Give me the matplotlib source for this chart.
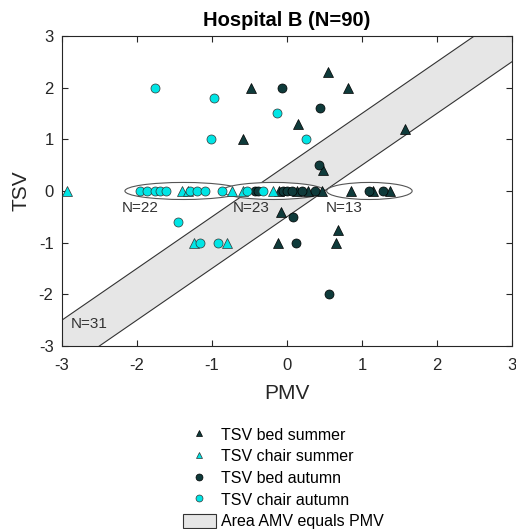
#Hospital B scatter: TSV vs PMV
import numpy as np
import matplotlib.pyplot as plt
from matplotlib.patches import Ellipse, Patch
from matplotlib.lines import Line2D

plt.rcParams['font.family'] = ['Liberation Sans', 'DejaVu Sans']
plt.rcParams['axes.unicode_minus'] = False

#data
bed_summer_x = [0.55, 0.81, 0.15, 1.57, 0.48, -0.48, -0.59, -0.08, -0.12, 0.68, 0.65,
                -0.1, 0.13, 0.28, 0.47, 0.85, 1.15, 1.37]
bed_summer_y = [2.3, 2.0, 1.3, 1.2, 0.4, 2.0, 1.0, -0.4, -1.0, -0.75, -1.0,
                0, 0, 0, 0, 0, 0, 0]

chair_summer_x = [-2.93, -1.24, -0.8, -1.4, -1.32, -0.73, -0.59, -0.19]
chair_summer_y = [0, -1.0, -1.0, 0, 0, 0, 0, 0]

bed_autumn_x = [-0.07, 0.44, 0.43, 0.08, 0.12, 0.56,
                -0.43, -0.38, -0.05, 0.0, 0.07, 0.2, 0.37, 1.1, 1.28]
bed_autumn_y = [2.0, 1.6, 0.5, -0.5, -1.0, -2.0,
                0, 0, 0, 0, 0, 0, 0, 0, 0]

chair_autumn_x = [-1.76, -0.97, -1.01, -0.13, 0.26, -1.45, -1.16, -0.92,
                  -1.96, -1.87, -1.76, -1.69, -1.61, -1.29, -1.2, -1.09, -0.87, -0.53, -0.32]
chair_autumn_y = [2.0, 1.8, 1.0, 1.5, 1.0, -0.6, -1.0, -1.0,
                  0, 0, 0, 0, 0, 0, 0, 0, 0, 0, 0]

#groups on the TSV=0 line
group_center = [-1.38, -0.18, 1.1]
group_width = [1.56, 1.37, 1.14]
group_labels = ['N=22', 'N=23', 'N=13']
group_label_x = [-1.96, -0.47, 0.77]
band_label = 'N=31'
band_half = 0.5

dark = '#0f3b3b'
cyan = '#00e5e5'

fig = plt.figure(figsize=(5.16, 5.29), dpi=100)
ax = fig.add_axes([0.120, 0.346, 0.872, 0.586])

#band where AMV equals PMV
bx = np.array([-3.5, 3.5])
ax.fill_between(bx, bx - band_half, bx + band_half, color='#e6e6e6', lw=0, zorder=1)
ax.plot(bx, bx - band_half, color='#333333', lw=0.8, zorder=2)
ax.plot(bx, bx + band_half, color='#333333', lw=0.8, zorder=2)

for c, w in zip(group_center, group_width):
    ax.add_patch(Ellipse((c, 0), w, 0.33, facecolor='white', edgecolor='#555555', lw=0.8, zorder=3))
for lx, lab in zip(group_label_x, group_labels):
    ax.text(lx, -0.33, lab, fontsize=11, color='#333333', ha='center', va='center', zorder=5)
ax.text(-2.63, -2.57, band_label, fontsize=11, color='#333333', ha='center', va='center', zorder=5)

ms = 6.5
ax.plot(bed_summer_x, bed_summer_y, '^', color=dark, mec='black', mew=0.5, ms=ms, ls='none', zorder=4)
ax.plot(chair_summer_x, chair_summer_y, '^', color=cyan, mec='#333333', mew=0.5, ms=ms, ls='none', zorder=4)
ax.plot(bed_autumn_x, bed_autumn_y, 'o', color=dark, mec='black', mew=0.5, ms=ms, ls='none', zorder=4)
ax.plot(chair_autumn_x, chair_autumn_y, 'o', color=cyan, mec='#333333', mew=0.5, ms=ms, ls='none', zorder=4)

ax.set_xlim(-3, 3)
ax.set_ylim(-3, 3)
ax.set_xticks(range(-3, 4))
ax.set_yticks(range(-3, 4))
ax.tick_params(direction='in', top=True, right=True, length=4, labelsize=12, colors='#262626')
ax.tick_params(axis='x', pad=8.5)
ax.tick_params(axis='y', pad=6)
for s in ax.spines.values():
    s.set_color('#262626')
    s.set_linewidth(0.8)
ax.set_xlabel('PMV', fontsize=15, color='#262626', labelpad=8)
ax.set_ylabel('TSV', fontsize=15, color='#262626', labelpad=6)
ax.set_title('Hospital B (N=90)', fontsize=14.5, fontweight='bold', pad=7)

handles = [
    Line2D([], [], marker='^', color=dark, mec='black', mew=0.5, ms=5, ls='none'),
    Line2D([], [], marker='^', color=cyan, mec='#333333', mew=0.5, ms=5, ls='none'),
    Line2D([], [], marker='o', color=dark, mec='black', mew=0.5, ms=5, ls='none'),
    Line2D([], [], marker='o', color=cyan, mec='#333333', mew=0.5, ms=5, ls='none'),
    Patch(facecolor='#e6e6e6', edgecolor='#333333', lw=0.8),
]
labels = ['TSV bed summer', 'TSV chair summer', 'TSV bed autumn', 'TSV chair autumn', 'Area AMV equals PMV']
fig.legend(handles, labels, loc='upper left', bbox_to_anchor=(0.354, 0.193), frameon=False,
           fontsize=11.5, handlelength=2.1, handleheight=1.0, handletextpad=0.3,
           labelspacing=0.38, borderpad=0, borderaxespad=0)

plt.savefig('out.png', dpi=100)
